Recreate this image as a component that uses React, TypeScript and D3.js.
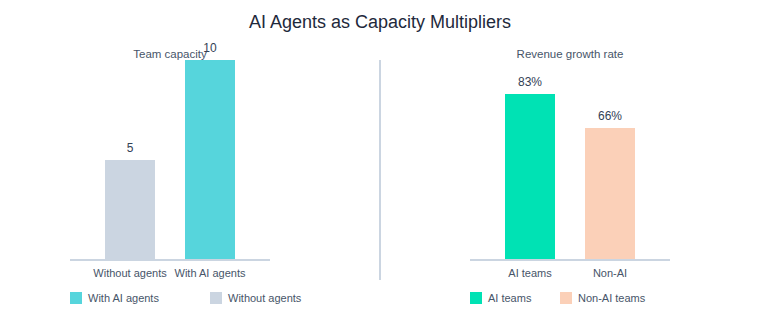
import React from 'react';
import * as d3 from 'd3';

const capacityCategories = ['Without agents', 'With AI agents'];
const capacityValues = [5, 10];
const capacityLegend = ['With AI agents', 'Without agents'];

const growthCategories = ['AI teams', 'Non-AI'];
const growthValues = [83, 66];
const growthLegend = ['AI teams', 'Non-AI teams'];

const FONT = '"Liberation Sans", Arial, sans-serif';

type PanelProps = {
  x0: number;
  title: string;
  categories: string[];
  values: number[];
  max: number;
  colors: string[];
  legend: string[];
  legendColors: string[];
  fmt: (v: number) => string;
};

const Panel = ({ x0, title, categories, values, max, colors, legend, legendColors, fmt }: PanelProps) => {
  const xScale = d3.scaleBand<string>()
    .domain(categories)
    .range([x0, x0 + 200])
    .paddingInner(0.375)
    .paddingOuter(0.4375);

  const yScale = d3.scaleLinear()
    .domain([0, max])
    .range([260, 60]);

  return (
    <g>
      <text x={x0 + 100} y={58} textAnchor="middle" fontSize={11.5} fill="#475569">{title}</text>

      {values.map((v, i) => (
        <rect key={i}
          x={xScale(categories[i])}
          y={yScale(v)}
          width={xScale.bandwidth()}
          height={260 - yScale(v)}
          fill={colors[i]} />
      ))}

      {values.map((v, i) => (
        <text key={'l' + i}
          x={(xScale(categories[i]) ?? 0) + xScale.bandwidth() / 2}
          y={yScale(v) - 8}
          textAnchor="middle" fontSize={12} fill="#334155">{fmt(v)}</text>
      ))}

      <line x1={x0} x2={x0 + 200} y1={260} y2={260} stroke="#cbd5e1" strokeWidth={2} />

      {categories.map((c, i) => (
        <text key={'c' + i}
          x={(xScale(c) ?? 0) + xScale.bandwidth() / 2}
          y={277} textAnchor="middle" fontSize={11} fill="#475569">{c}</text>
      ))}

      {legend.map((l, i) => (
        <g key={'g' + i} transform={`translate(${x0 + i * (x0 < 300 ? 140 : 90)}, 292)`}>
          <rect width={12} height={12} fill={legendColors[i]} />
          <text x={18} y={10} fontSize={11} fill="#475569">{l}</text>
        </g>
      ))}
    </g>
  );
};

const App = () => {
  return (
    <svg width={760} height={320} style={{ position: 'absolute', left: 0, top: 0, fontFamily: FONT }}>
      <rect width={760} height={320} fill="#ffffff" />
      <text x={380} y={28} textAnchor="middle" fontSize={18} fill="#1e293b">AI Agents as Capacity Multipliers</text>

      <Panel x0={70} title="Team capacity"
        categories={capacityCategories} values={capacityValues} max={10}
        colors={['#cbd5e1', '#56d5dc']}
        legend={capacityLegend} legendColors={['#56d5dc', '#cbd5e1']}
        fmt={v => `${v}`} />

      <line x1={380} x2={380} y1={60} y2={280} stroke="#cbd5e1" strokeWidth={2} />

      <Panel x0={470} title="Revenue growth rate"
        categories={growthCategories} values={growthValues} max={100}
        colors={['#00e2b4', '#fbd0b8']}
        legend={growthLegend} legendColors={['#00e2b4', '#fbd0b8']}
        fmt={v => `${v}%`} />
    </svg>
  );
};

export default App;
